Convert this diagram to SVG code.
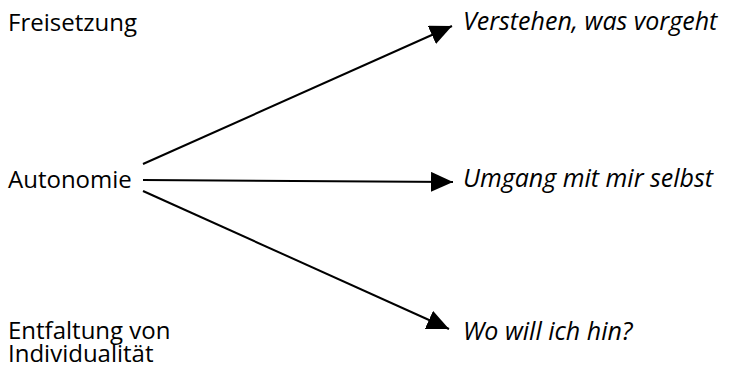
<svg xmlns="http://www.w3.org/2000/svg" width="737" height="371" viewBox="0 0 737 371">
<style>
text { font-family: "Open Sans", "Noto Sans", "DejaVu Sans", sans-serif; font-size: 24px; fill: #000; }
.it { font-style: italic; font-size: 25px; }
.conn { stroke: #000; stroke-width: 2; fill: none; }
</style>
<defs>
<marker id="ah" markerUnits="userSpaceOnUse" markerWidth="24" markerHeight="22" refX="22" refY="10" orient="auto" viewBox="0 0 24 22">
<path d="M0,0 L22,10 L0,20 Z" fill="#000"/>
</marker>
</defs>
<rect width="737" height="371" fill="#fff"/>
<g id="n-freisetzung"><text x="8" y="31">Freisetzung</text></g>
<g id="n-autonomie"><text x="8" y="188">Autonomie</text></g>
<g id="n-entfaltung"><text x="8" y="339">Entfaltung von</text><text x="8" y="362">Individualität</text></g>
<g id="n-verstehen"><text class="it" x="463" y="30">Verstehen, was vorgeht</text></g>
<g id="n-umgang"><text class="it" x="463" y="187">Umgang mit mir selbst</text></g>
<g id="n-wo"><text class="it" x="463" y="340">Wo will ich hin?</text></g>
<g id="connectors">
<line class="conn" x1="143" y1="164" x2="452" y2="26" marker-end="url(#ah)"/>
<line class="conn" x1="143" y1="180" x2="453" y2="182" marker-end="url(#ah)"/>
<line class="conn" x1="143" y1="191" x2="449" y2="329" marker-end="url(#ah)"/>
</g>
</svg>
